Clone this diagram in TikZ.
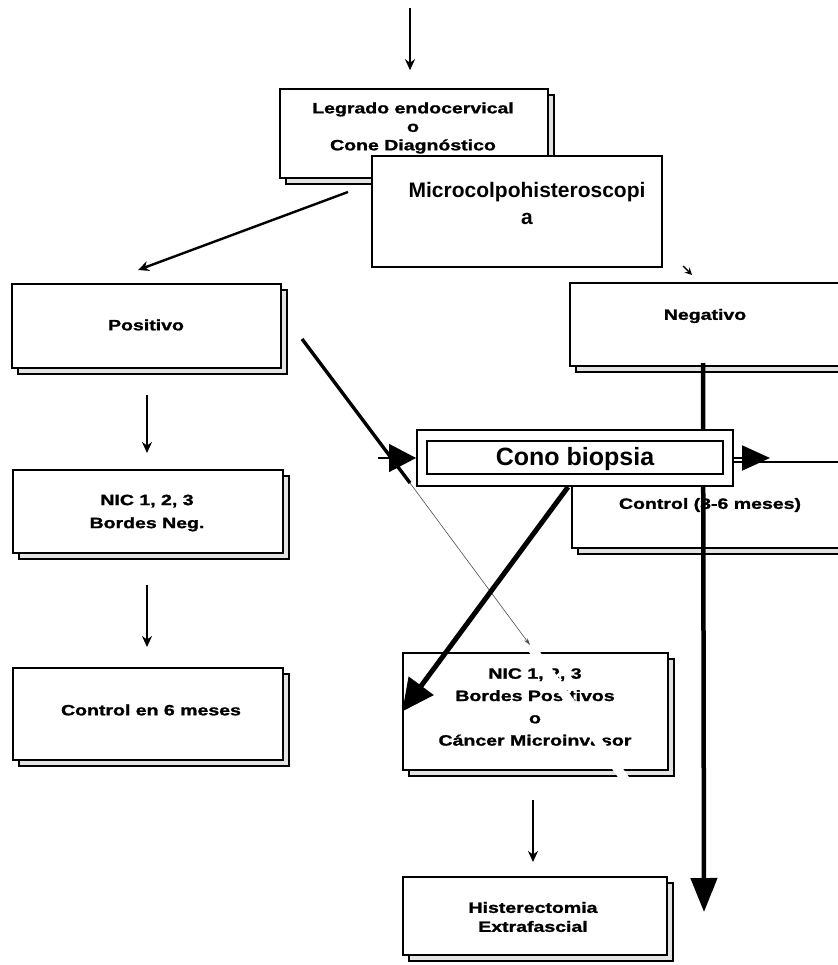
\documentclass[tikz,border=0pt]{standalone}
\usepackage{fontspec}
\setmainfont{Liberation Sans}
\newfontfamily\scanfont{Liberation Sans}[UprightFeatures={FakeBold=1.2},BoldFeatures={FakeBold=1.2}]
\usepackage{graphicx}
\usetikzlibrary{arrows.meta,fit}
\newcommand\xw[1]{\scalebox{1.3}[1]{#1}}
\newcommand\mkbox[5]{%
  \draw[shadowst] (#2+6,#3+6) rectangle (#4+6,#5+6);
  \node[scanbox,fit={(#2,#3) (#4,#5)}] (#1) {};}
\begin{document}
\begin{tikzpicture}[x=1pt,y=-1pt,
  shadowst/.style={draw=black,line width=1.3pt,fill=gray!22},
  scanbox/.style={draw=black,line width=1.6pt,fill=white,inner sep=0pt},
  scantxt/.style={font=\scanfont\bfseries\fontsize{15}{#1}\selectfont,align=center,inner sep=0pt},
  scantxt/.default=18,
  scanarrow/.style={line width=1.8pt,-{Stealth[length=11pt,width=10pt]}},
  newbox/.style={draw=black,line width=2.2pt,fill=white,inner sep=0pt},
  bigtxt/.style={font=\bfseries\fontsize{#1}{27}\selectfont,align=center,inner sep=0pt}]
\useasboundingbox[fill=white] (0,0) rectangle (837,965);

% ---- scanned boxes ----
\mkbox{leg}{280}{89}{548}{178}
\mkbox{pos}{12}{284}{281}{368}
\mkbox{neg}{570}{283}{850}{366}
\mkbox{nicneg}{13}{470}{283}{553}
\mkbox{ctlsix}{13}{668}{283}{760}
\mkbox{ctlthree}{572}{462}{850}{548}
\mkbox{nicpos}{403}{653}{668}{770}
\mkbox{hist}{403}{877}{667}{955}

% ---- scanned texts ----
\node[scantxt=18.5] (leg-t) at (413,128) {\xw{Legrado endocervical}\\\xw{o}\\\xw{Cone Diagnóstico}};
\node[scantxt] (pos-t) at (146,325) {\xw{Positivo}};
\node[scantxt] (neg-t) at (705,316) {\xw{Negativo}};
\node[scantxt=23] (nicneg-t) at (147,513) {\xw{NIC 1, 2, 3}\\\xw{Bordes Neg.}};
\node[scantxt] (ctlsix-t) at (151,710) {\xw{Control en 6 meses}};
\node[scantxt] (ctlthree-t) at (710,505) {\xw{Control (3-6 meses)}};
\node[scantxt=22.3] (nicpos-t) at (535,707) {\xw{NIC 1, 2, 3}\\\xw{Bordes Positivos}\\\xw{o}\\\xw{Cáncer Microinvasor}};
\node[scantxt=19] (hist-t) at (533,917) {\xw{Histerectomia}\\\xw{Extrafascial}};

% ---- scanned arrows ----
\coordinate (top) at (410,8);
\draw[scanarrow,shorten >=18pt] (top) -- (top |- leg.north);
\coordinate (lp1) at (348,192);
\coordinate (lp2) at (138,270);
\draw[scanarrow,line width=2.4pt] (lp1) -- (lp2);
\coordinate (pn1) at (147,395);
\coordinate (pn2) at (147,453);
\draw[scanarrow] (pn1) -- (pn2);
\coordinate (nc1) at (147,585);
\coordinate (nc2) at (147,647);
\draw[scanarrow] (nc1) -- (nc2);
\coordinate (nh1) at (533,800);
\coordinate (nh2) at (533,862);
\draw[scanarrow] (nh1) -- (nh2);

% line from Positivo
\coordinate (t0) at (302,339);
\coordinate (t1) at (410,483);
\coordinate (t2) at (530,645);
\coordinate (t3) at (531,647);
\coordinate (t4) at (634,792);
\draw[line width=3.4pt] (t0) -- (t1);
\draw[line width=0.6pt,draw=gray!60!black,-{Stealth[length=7pt,width=4pt]}] (t1) -- (t2);
\draw[white,line width=9pt] (t3) -- (t4);

% remnant arrow tip above Negativo
\coordinate (r1) at (683,266);
\coordinate (r2) at (692,275);
\draw[line width=1.4pt,-{Stealth[length=7pt,width=7pt]}] (r1) -- (r2);

% ---- overlay elements ----
\coordinate (v1) at (703,363);
\coordinate (v2) at (704,912);
\draw[line width=4.5pt,-{Triangle[length=34pt,width=26pt]}] (v1) -- (v2);

\node[newbox,fit={(372,156) (662,267)}] (micro) {};
\node[bigtxt=21] (micro-t) at (527,203) {Microcolpohisteroscopi\\a};

\node[draw=black,line width=2pt,fill=white,inner sep=0pt,fit={(417,430) (733,486)}] (cono) {};
\node[draw=black,line width=2pt,inner sep=0pt,fit={(427,441) (723,474)}] (cono-in) {};
\node[bigtxt=25] (cono-t) at (575,459) {Cono biopsia};

\coordinate (cl) at (378,458);
\draw[line width=1.5pt,-{Triangle[length=27pt,width=28pt]}] (cl) -- (cono.west);
\draw[line width=2pt,-{Triangle[length=28pt,width=25pt]}] (cono.east) -- ++(36,0);
\coordinate (d1) at (568,487);
\draw[line width=5pt,-{Triangle[length=32pt,width=30pt]}] (d1) -- (nicpos.west);
\end{tikzpicture}
\end{document}
